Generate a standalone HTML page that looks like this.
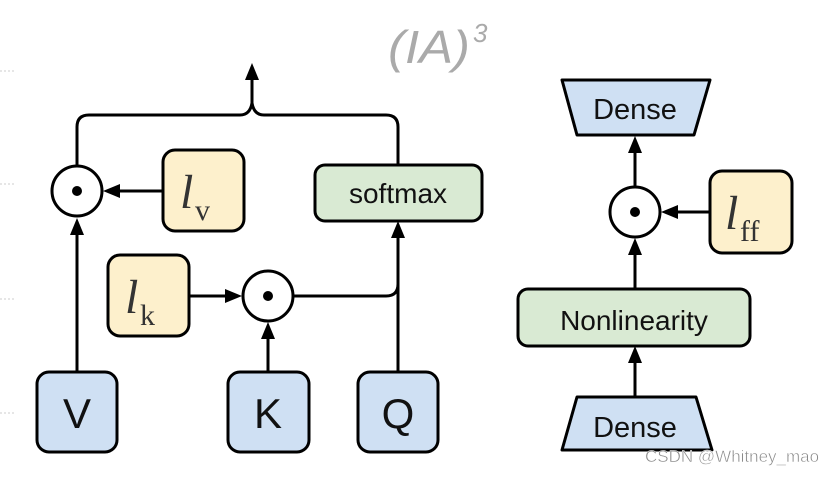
<!DOCTYPE html>
<html><head><style>
html,body{margin:0;padding:0;background:#fff;}
svg text{font-family:"Liberation Sans",sans-serif;}
</style></head><body>
<svg width="823" height="473" viewBox="0 0 823 473" xmlns="http://www.w3.org/2000/svg">
<g stroke="#ccc" stroke-width="1" stroke-dasharray="2,2">
<line x1="0" y1="71" x2="15" y2="71"/><line x1="0" y1="184" x2="15" y2="184"/>
<line x1="0" y1="299" x2="15" y2="299"/><line x1="0" y1="413" x2="15" y2="413"/>
</g>
<text x="388" y="63" font-size="46" font-style="italic" fill="#aaa" textLength="82" lengthAdjust="spacingAndGlyphs">(IA)</text>
<text x="473" y="42" font-size="26" font-style="italic" fill="#aaa">3</text>

<g fill="none" stroke="#000" stroke-width="3">
<path d="M77 167 V127 Q77 115 89 115 H240 Q250 115 252 103 Q254 115 264 115 H386 Q398 115 398 127 V165"/>
<line x1="252" y1="103" x2="252" y2="78"/>
<line x1="163" y1="191" x2="115" y2="191"/>
<line x1="77" y1="372" x2="77" y2="232"/>
<line x1="190" y1="296" x2="228" y2="296"/>
<line x1="268" y1="372" x2="268" y2="336"/>
<path d="M294 296 H386 Q398 296 398 284"/>
<line x1="398" y1="372" x2="398" y2="235"/>
<line x1="635" y1="187" x2="635" y2="150"/>
<line x1="710" y1="212" x2="674" y2="212"/>
<line x1="635" y1="289" x2="635" y2="251"/>
<line x1="635" y1="397" x2="635" y2="360"/>
</g>
<g fill="#000">
<polygon points="252,63 245,80 259,80"/>
<polygon points="103,191 120,184 120,198"/>
<polygon points="77,218 70,235 84,235"/>
<polygon points="242,296 225,289 225,303"/>
<polygon points="268,322 261,339 275,339"/>
<polygon points="398,221 391,238 405,238"/>
<polygon points="635,136 628,153 642,153"/>
<polygon points="661,212 678,205 678,219"/>
<polygon points="635,238 628,255 642,255"/>
<polygon points="635,346 628,363 642,363"/>
</g>
<g fill="#fff" stroke="#000" stroke-width="3">
<circle cx="77" cy="191" r="25"/><circle cx="268" cy="296" r="25"/><circle cx="635" cy="212" r="25"/>
</g>
<g fill="#000"><circle cx="77" cy="191" r="5"/><circle cx="268" cy="296" r="5"/><circle cx="635" cy="212" r="5"/></g>
<g stroke="#000" stroke-width="3">
<rect x="163" y="150" width="81" height="81" rx="12" fill="#fdf0cc"/>
<rect x="108" y="255" width="81" height="81" rx="12" fill="#fdf0cc"/>
<rect x="710" y="171" width="82" height="82" rx="12" fill="#fdf0cc"/>
<rect x="315" y="165" width="167" height="56" rx="10" fill="#d9ead3"/>
<rect x="518" y="289" width="232" height="57" rx="10" fill="#d9ead3"/>
<rect x="37" y="372" width="80" height="80" rx="12" fill="#cfe0f3"/>
<rect x="228" y="372" width="81" height="80" rx="12" fill="#cfe0f3"/>
<rect x="358" y="372" width="80" height="80" rx="12" fill="#cfe0f3"/>
<polygon points="562,80 710,80 694,135 577,135" fill="#cfe0f3" stroke-linejoin="round"/>
<polygon points="577,397 696,397 712,450 562,450" fill="#cfe0f3" stroke-linejoin="round"/>
</g>
<g fill="#111" text-anchor="middle">
<text x="398" y="203" font-size="28">softmax</text>
<text x="634" y="330" font-size="28">Nonlinearity</text>
<text x="635" y="119" font-size="29">Dense</text>
<text x="635" y="437" font-size="29">Dense</text>
<text x="77" y="428" font-size="42">V</text>
<text x="268" y="428" font-size="42">K</text>
<text x="398" y="428" font-size="42">Q</text>
</g>
<g fill="#333">
<text x="180" y="208" font-size="48" font-style="italic" style="font-family:'Liberation Serif',serif">l</text>
<text x="195" y="220" font-size="30" style="font-family:'Liberation Serif',serif">v</text>
<text x="125" y="313" font-size="48" font-style="italic" style="font-family:'Liberation Serif',serif">l</text>
<text x="140" y="325" font-size="30" style="font-family:'Liberation Serif',serif">k</text>
<text x="725" y="229" font-size="48" font-style="italic" style="font-family:'Liberation Serif',serif">l</text>
<text x="740" y="241" font-size="30" style="font-family:'Liberation Serif',serif">ff</text>
</g>
<text x="645" y="462" font-size="17" fill="#888" stroke="#fff" stroke-width="0.5">CSDN @Whitney_mao</text>
</svg>
</body></html>
